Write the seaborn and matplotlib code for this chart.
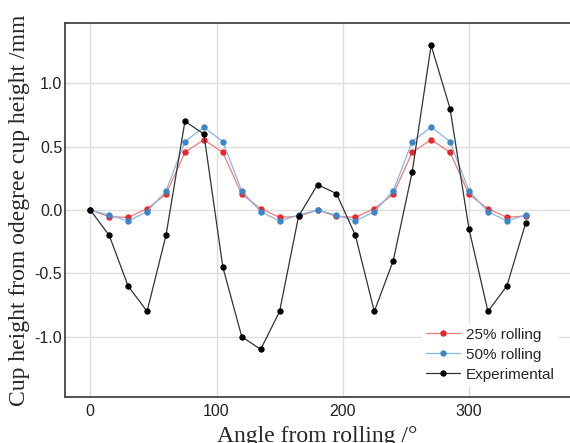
import numpy as np
import pandas as pd
import matplotlib
matplotlib.use("Agg")
import matplotlib.pyplot as plt
import seaborn as sns

angles = list(range(0, 360, 15))
rolling25 = [0.0, -0.053, -0.058, 0.01, 0.124, 0.455, 0.555, 0.455, 0.124, 0.01, -0.058, -0.05,
             0.0, -0.05, -0.058, 0.01, 0.124, 0.455, 0.555, 0.455, 0.124, 0.01, -0.058, -0.047]
rolling50 = [0.0, -0.04, -0.087, -0.013, 0.15, 0.54, 0.653, 0.54, 0.15, -0.013, -0.087, -0.04,
             0.0, -0.04, -0.087, -0.013, 0.15, 0.54, 0.655, 0.54, 0.15, -0.013, -0.087, -0.04]
experimental = [0.0, -0.2, -0.6, -0.8, -0.2, 0.7, 0.6, -0.45, -1.0, -1.1, -0.8, -0.05,
                0.2, 0.13, -0.2, -0.8, -0.4, 0.3, 1.3, 0.8, -0.15, -0.8, -0.6, -0.1]
labels = ["25% rolling", "50% rolling", "Experimental"]
x_ticks = [0, 100, 200, 300]
y_ticks = [-1.0, -0.5, 0.0, 0.5, 1.0]

sns.set_style("white")
plt.rcParams['font.family'] = ['Liberation Sans', 'DejaVu Sans']

df = pd.DataFrame({"angle": angles, labels[0]: rolling25, labels[1]: rolling50, labels[2]: experimental})

fig = plt.figure(figsize=(5.7, 4.43), dpi=100)
ax = fig.add_axes([65/570, 1 - 397/443, 1 - 65/570, (397 - 23)/443])

styles = [
    (labels[0], "#f27a7c", "#e8262b"),
    (labels[1], "#86b8e3", "#3a86c8"),
    (labels[2], "#333333", "#000000"),
]
for name, lc, mc in styles:
    sns.lineplot(data=df, x="angle", y=name, ax=ax, color=lc, linewidth=0.9,
                 marker="o", markersize=3.8, markerfacecolor=mc, markeredgecolor=mc,
                 label=name)

ax.set_xlim(-20, 380)
ax.set_ylim(-1.476, 1.476)
ax.set_xticks(x_ticks)
ax.set_yticks(y_ticks)
ax.set_yticklabels([f"{v:.1f}" for v in y_ticks])
ax.grid(True, color="#dddddd", linewidth=1.0)
ax.set_axisbelow(True)
for s in ["left", "bottom", "top"]:
    ax.spines[s].set_color("#444444")
    ax.spines[s].set_linewidth(1.3)
ax.spines["right"].set_visible(False)
ax.tick_params(axis="both", direction="in", length=3, width=1, color="#888888",
               labelsize=11.5, labelcolor="#222222")
ax.tick_params(axis="y", pad=2)
ax.tick_params(axis="x", pad=5)

ax.set_xlabel("Angle from rolling /°", family=["Liberation Serif", "DejaVu Serif"], fontsize=17, labelpad=5)
ax.set_ylabel("Cup height from odegree cup height /mm", family=["Liberation Serif", "DejaVu Serif"], fontsize=17, labelpad=3)

leg = ax.legend(loc="lower right", fontsize=11, frameon=True, facecolor="white",
                edgecolor="none", framealpha=1, handlelength=2.2, borderaxespad=0.7,
                borderpad=0.3, labelspacing=0.4, handletextpad=0.4)

fig.savefig("out.png", dpi=100)
